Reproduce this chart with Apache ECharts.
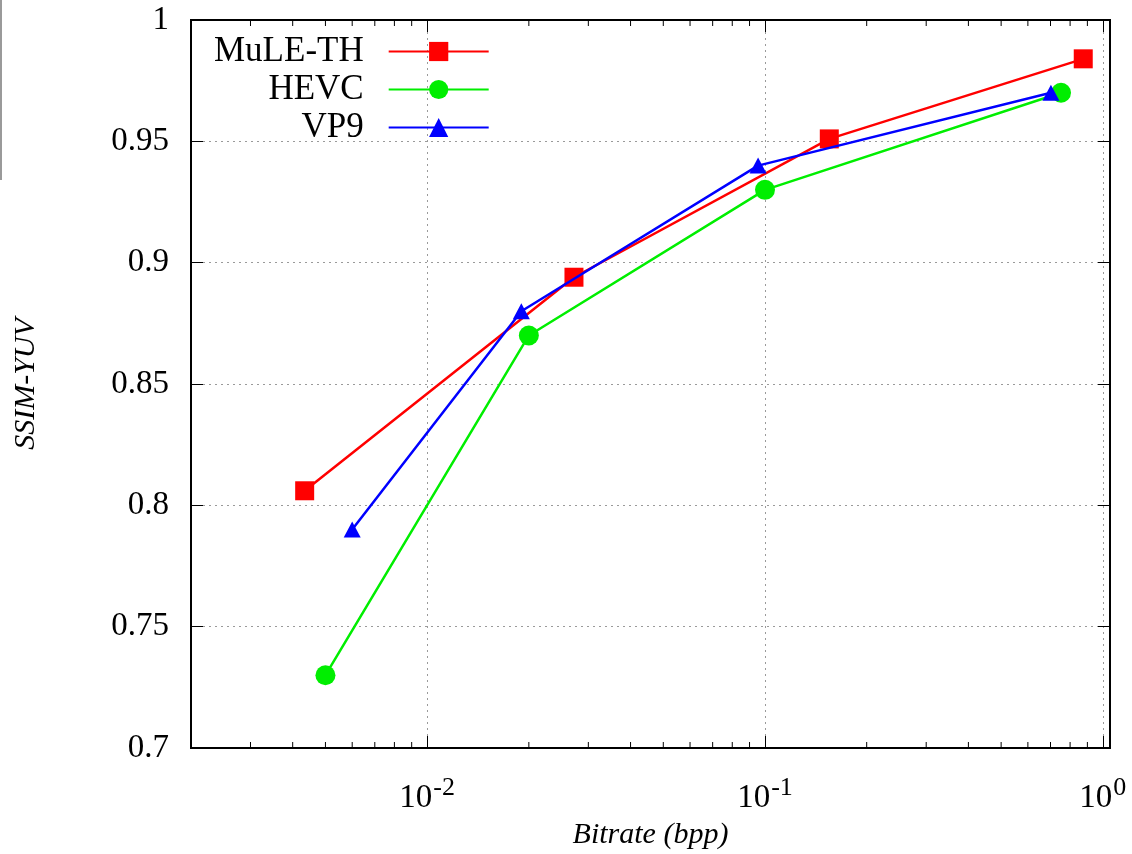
<!DOCTYPE html>
<html>
<head>
<meta charset="utf-8">
<title>SSIM-YUV vs Bitrate</title>
<script src="https://cdn.jsdelivr.net/npm/echarts@6/dist/echarts.min.js"></script>
<style>
  html, body { margin: 0; padding: 0; background: #fff; }
  #chart { width: 1132px; height: 854px; }
</style>
</head>
<body>
<div id="chart"></div>
<script>
// Rate–quality points per codec (bitrate in bpp, SSIM on YUV)
const seriesNames = ['MuLE-TH', 'HEVC', 'VP9'];
const muleBitrate = [0.00434, 0.0272, 0.155, 0.875];
const muleSsim    = [0.806, 0.894, 0.951, 0.984];
const hevcBitrate = [0.005, 0.020, 0.100, 0.752];
const hevcSsim    = [0.730, 0.870, 0.930, 0.970];
const vp9Bitrate  = [0.006, 0.019, 0.0954, 0.702];
const vp9Ssim     = [0.790, 0.880, 0.940, 0.970];

// Axis ranges and tick positions
const xMin = 0.002, xMax = 1.05;
const yMin = 0.7, yMax = 1.0, yStep = 0.05;
const minorTickValues = [
  0.003, 0.004, 0.005, 0.006, 0.007, 0.008, 0.009,
  0.02, 0.03, 0.04, 0.05, 0.06, 0.07, 0.08, 0.09,
  0.2, 0.3, 0.4, 0.5, 0.6, 0.7, 0.8, 0.9
];

const FONT = "'Liberation Serif', 'DejaVu Serif', serif";
const colors = ['#ff0000', '#00ee00', '#0000ff'];
const symbols = ['rect', 'circle', 'triangle'];
const symbolSizes = [19, 20, [17, 16]];

function zip(xs, ys) { return xs.map((x, i) => [x, ys[i]]); }
const seriesData = [zip(muleBitrate, muleSsim), zip(hevcBitrate, hevcSsim), zip(vp9Bitrate, vp9Ssim)];

function powerLabel(v) {
  const e = Math.log10(v);
  const r = Math.round(e);
  if (Math.abs(e - r) > 1e-6) return '';
  return '{b|10}{s|' + r + '}';
}

const chart = echarts.init(document.getElementById('chart'), null, { renderer: 'canvas' });

const lineSeries = seriesNames.map((name, i) => ({
  name: name,
  type: 'line',
  data: seriesData[i],
  xAxisIndex: 0,
  yAxisIndex: 0,
  symbol: symbols[i],
  symbolSize: symbolSizes[i],
  showAllSymbol: true,
  lineStyle: { color: colors[i], width: 2.5 },
  itemStyle: { color: colors[i] },
  emphasis: { disabled: true },
  z: 3 + i,
  animation: false
}));

// Short inward minor ticks along the bottom and top frame edges
const minorTickSeries = {
  type: 'custom',
  xAxisIndex: 0,
  yAxisIndex: 0,
  data: minorTickValues.map(v => [v]),
  silent: true,
  z: 10,
  animation: false,
  renderItem: function (params, api) {
    const v = api.value(0);
    const b = api.coord([v, yMin]);
    const t = api.coord([v, yMax]);
    const len = 6;
    return {
      type: 'group',
      children: [
        { type: 'line', shape: { x1: b[0], y1: b[1], x2: b[0], y2: b[1] - len }, style: { stroke: '#000', lineWidth: 1 } },
        { type: 'line', shape: { x1: t[0], y1: t[1], x2: t[0], y2: t[1] + len }, style: { stroke: '#000', lineWidth: 1 } }
      ]
    };
  }
};

const gridLineStyle = { color: '#9a9a9a', width: 1, type: [2, 4] };

chart.setOption({
  backgroundColor: '#ffffff',
  animation: false,
  grid: {
    left: 191, top: 20, width: 919, height: 728,
    outerBoundsMode: 'none',
    containLabel: false,
    show: true, borderColor: '#000', borderWidth: 2, backgroundColor: 'transparent'
  },
  legend: {
    data: seriesNames,
    orient: 'vertical',
    align: 'right',
    left: 214,
    top: 34,
    padding: 0,
    itemWidth: 100,
    itemHeight: 24,
    itemGap: 3,
    selectedMode: false,
    textStyle: { fontFamily: FONT, fontSize: 35, color: '#000', lineHeight: 34, padding: [0, 20, 0, 0] }
  },
  xAxis: [
    {
      type: 'log',
      logBase: 10,
      min: xMin,
      max: xMax,
      position: 'bottom',
      name: 'Bitrate (bpp)',
      nameLocation: 'middle',
      nameGap: 67,
      nameTextStyle: { fontFamily: FONT, fontSize: 30, fontStyle: 'italic', color: '#000' },
      axisLine: { show: true, lineStyle: { color: '#000', width: 2 } },
      axisTick: { show: true, inside: true, length: 12, lineStyle: { color: '#000', width: 1 } },
      minorTick: { show: false },
      splitLine: { show: true, lineStyle: gridLineStyle },
      axisLabel: {
        show: true,
        margin: 27,
        showMinLabel: false,
        showMaxLabel: false,
        formatter: powerLabel,
        rich: {
          b: { fontFamily: FONT, fontSize: 33, color: '#000', lineHeight: 40, verticalAlign: 'bottom' },
          s: { fontFamily: FONT, fontSize: 26, color: '#000', lineHeight: 40, verticalAlign: 'top', padding: [0, 0, 0, 1] }
        }
      }
    },
    {
      type: 'log',
      logBase: 10,
      min: xMin,
      max: xMax,
      position: 'top',
      axisLine: { show: true, lineStyle: { color: '#000', width: 2 } },
      axisTick: { show: true, inside: true, length: 12, lineStyle: { color: '#000', width: 1 } },
      axisLabel: { show: false },
      splitLine: { show: false }
    }
  ],
  yAxis: [
    {
      type: 'value',
      min: yMin,
      max: yMax,
      interval: yStep,
      position: 'left',
      name: 'SSIM-YUV',
      nameLocation: 'middle',
      nameRotate: 90,
      nameGap: 150,
      nameTextStyle: { fontFamily: FONT, fontSize: 30, fontStyle: 'italic', color: '#000' },
      axisLine: { show: true, lineStyle: { color: '#000', width: 2 } },
      axisTick: { show: true, inside: true, length: 12, lineStyle: { color: '#000', width: 1 } },
      splitLine: { show: true, lineStyle: gridLineStyle },
      axisLabel: { show: true, margin: 22, fontFamily: FONT, fontSize: 33, color: '#000' }
    },
    {
      type: 'value',
      min: yMin,
      max: yMax,
      interval: yStep,
      position: 'right',
      axisLine: { show: true, lineStyle: { color: '#000', width: 2 } },
      axisTick: { show: true, inside: true, length: 12, lineStyle: { color: '#000', width: 1 } },
      splitLine: { show: false },
      axisLabel: { show: false }
    }
  ],
  graphic: [
    // thin grey rule along the upper left edge of the page
    { type: 'rect', left: 0, top: 0, shape: { width: 2, height: 180 }, style: { fill: '#9a9a9a' }, silent: true }
  ],
  series: lineSeries.concat([minorTickSeries])
});
</script>
</body>
</html>
